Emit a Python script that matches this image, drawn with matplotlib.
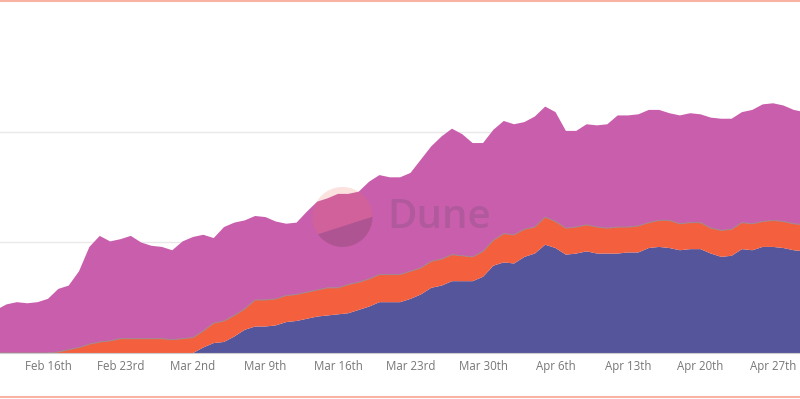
import matplotlib
matplotlib.use("Agg")
import matplotlib.pyplot as plt
import matplotlib.dates as mdates
from matplotlib.patches import Circle, Polygon
from matplotlib.lines import Line2D
import pandas as pd

# daily values, Feb 11 -> Apr 30
dates = pd.date_range("2023-02-11", periods=79, freq="D")

blue = [0, 0, 0, 0, 0, 0, 0, 0, 0, 0,
        0, 0, 0, 0, 0, 0, 0, 0, 0, 0,
        5, 9, 10, 15, 21, 24, 24, 25, 28, 29,
        31, 33, 34, 35, 36, 39, 42, 46, 46, 46,
        49, 53, 59, 61, 65, 65, 65, 69, 79, 82,
        81, 87, 90, 98, 95, 89, 90, 92, 90, 90,
        90, 91, 91, 95, 96, 95, 93, 94, 94, 90,
        87, 88, 94, 93, 96, 96, 95, 93, 92]

orange = [0, 0, 0, 0, 0, 0, 1, 3, 5, 8,
          10, 11, 13, 13, 13, 13, 13, 12, 13, 14,
          15, 18, 19, 19, 19, 24, 24, 24, 24, 24,
          24, 24, 25, 24, 26, 25, 25, 25, 25, 25,
          25, 24, 24, 24, 24, 23, 22, 23, 23, 26,
          26, 25, 24, 25, 24, 24, 24, 24, 24, 23,
          24, 23, 24, 23, 24, 25, 24, 24, 24, 23,
          24, 24, 24, 24, 23, 24, 24, 24, 24]

magenta = [39, 44, 46, 45, 46, 49, 57, 58, 69, 88,
           96, 90, 90, 93, 87, 84, 83, 81, 88, 91,
           87, 77, 85, 84, 80, 76, 75, 70, 65, 65,
           73, 80, 81, 85, 82, 82, 88, 90, 88, 88,
           89, 98, 104, 111, 114, 110, 103, 98, 100, 102,
           100, 97, 100, 100, 99, 88, 87, 91, 92, 94,
           101, 101, 101, 102, 100, 97, 98, 99, 98, 100,
           101, 100, 100, 103, 106, 106, 105, 103, 102]

tick_dates = pd.date_range("2023-02-16", periods=11, freq="7D")
tick_labels = ["Feb 16th", "Feb 23rd", "Mar 2nd", "Mar 9th", "Mar 16th", "Mar 23rd",
               "Mar 30th", "Apr 6th", "Apr 13th", "Apr 20th", "Apr 27th"]

c_blue = "#55559b"
c_orange = "#f45f3e"
c_magenta = "#c95eac"

fig = plt.figure(figsize=(8, 3.99), dpi=100)
ax = fig.add_axes([0, 46 / 399, 1, 343 / 399])

ax.stackplot(dates, blue, orange, magenta,
             colors=[c_blue, c_orange, c_magenta], linewidth=0, zorder=2)
cum2 = [b + o for b, o in zip(blue, orange)]
ax.plot(dates, cum2, color="#a5868c", lw=0.8, zorder=3)

start = mdates.date2num(dates[0])
ax.set_xlim(start + 0.37, start + 77.6)
ax.set_ylim(0, 310.4)

ax.set_yticks([100, 200])
ax.grid(axis="y", color="#e9e9e9", lw=1, zorder=0)
ax.set_xticks(tick_dates)
ax.set_xticklabels(tick_labels, fontfamily="Open Sans", fontsize=8.3, color="#777777")
ax.tick_params(axis="x", length=0, pad=5)
ax.tick_params(axis="y", length=0, labelleft=False)
for s in ["top", "left", "right"]:
    ax.spines[s].set_visible(False)
ax.spines["bottom"].set_color("#cccccc")
ax.spines["bottom"].set_zorder(4)

# Dune watermark, drawn in pixel coordinates
ov = fig.add_axes([0, 0, 1, 1])
ov.set_xlim(0, 800)
ov.set_ylim(399, 0)
ov.axis("off")
circ = Circle((342.5, 217), 30, facecolor="#f0705a", alpha=0.2, lw=0)
ov.add_patch(circ)
low = Polygon([(300, 240), (385, 212.7), (385, 260), (300, 260)],
              facecolor="#3b2a7a", alpha=0.22, lw=0)
ov.add_patch(low)
low.set_clip_path(Circle((342.5, 217), 30, transform=ov.transData))
ov.text(387, 218, "Dune", fontsize=29, fontfamily="Open Sans", fontweight="semibold",
        color="#5a4a6a", alpha=0.22, va="center", ha="left")

# salmon frame lines
fig.add_artist(Line2D([0, 1], [0.9985, 0.9985], color="#f9b3a3", lw=1.5))
fig.add_artist(Line2D([0, 1], [0.004, 0.004], color="#f9b3a3", lw=1.5))

fig.savefig("out.png", dpi=100)
